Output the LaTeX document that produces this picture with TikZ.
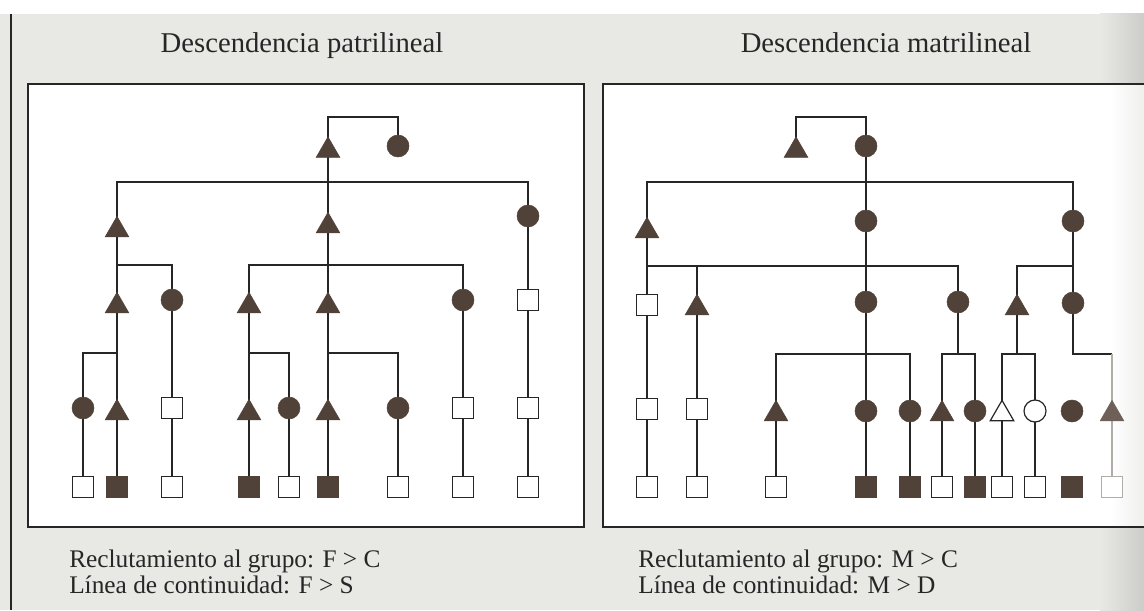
\documentclass[tikz,border=0pt]{standalone}
\usepackage{fontspec}
\setmainfont{Liberation Serif}
\usetikzlibrary{shapes.geometric,backgrounds}

\definecolor{paper}{RGB}{232,232,229}
\definecolor{ink}{RGB}{38,38,38}
\definecolor{kin}{RGB}{80,66,56}
\definecolor{faded}{RGB}{176,172,168}
\definecolor{fadedkin}{RGB}{110,96,88}

\begin{document}
\begin{tikzpicture}[x=0.75pt,y=0.75pt,yscale=-1,xscale=1,
  link/.style={draw=ink,line width=1pt},
  boxline/.style={draw=ink,line width=1.3pt},
  male/.style={regular polygon,regular polygon sides=3,minimum size=20.5pt,inner sep=0pt,fill=kin,draw=kin,line width=0.4pt},
  female/.style={circle,minimum size=16.5pt,inner sep=0pt,fill=kin,draw=kin,line width=0.4pt},
  sqopen/.style={rectangle,minimum size=15.5pt,inner sep=0pt,fill=white,draw=ink,line width=0.9pt},
  sqfull/.style={sqopen,fill=kin,draw=kin},
  maleopen/.style={male,fill=white,draw=ink,line width=0.9pt},
  femaleopen/.style={female,fill=white,draw=ink,line width=0.9pt},
  heading/.style={font=\fontsize{21.5}{24}\selectfont,text=ink,inner sep=0pt,anchor=base},
  captionline/.style={font=\fontsize{19}{21}\selectfont,text=ink,inner sep=0pt,anchor=base west}]
\useasboundingbox (0,0) rectangle (1144,610);

% Text Node
\node[heading] (tpat) at (302,53) {Descendencia patrilineal};
% Text Node
\node[heading] (tmat) at (886,53) {Descendencia matrilineal};

%%%%% patrilineal
\node[male]   (p0a) at (328,150.5) {};
\node[female] (p0b) at (398,146) {};
\node[male]   (p1a) at (117,230) {};
\node[male]   (p1b) at (328,226) {};
\node[female] (p1c) at (528,216) {};
\node[male]   (p2a) at (117,306) {};
\node[female] (p2b) at (172,300) {};
\node[male]   (p2c) at (249,306) {};
\node[male]   (p2d) at (328,306) {};
\node[female] (p2e) at (463,300) {};
\node[sqopen] (p2f) at (528,300) {};
\node[female] (p3a) at (83,408) {};
\node[male]   (p3b) at (117,413) {};
\node[sqopen] (p3c) at (172,408) {};
\node[male]   (p3d) at (249,413) {};
\node[female] (p3e) at (289,408) {};
\node[male]   (p3f) at (328,413) {};
\node[female] (p3g) at (398,408) {};
\node[sqopen] (p3h) at (463,408) {};
\node[sqopen] (p3i) at (528,408) {};
\node[sqopen] (p4a) at (83,487) {};
\node[sqfull] (p4b) at (117,487) {};
\node[sqopen] (p4c) at (172,487) {};
\node[sqfull] (p4d) at (249,487) {};
\node[sqopen] (p4e) at (289,487) {};
\node[sqfull] (p4f) at (328,487) {};
\node[sqopen] (p4g) at (398,487) {};
\node[sqopen] (p4h) at (463,487) {};
\node[sqopen] (p4i) at (528,487) {};

%%%%% matrilineal
\node[male]   (m0a) at (796,150.5) {};
\node[female] (m0b) at (866,146) {};
\node[male]   (m1a) at (647,231) {};
\node[female] (m1b) at (866,221) {};
\node[female] (m1c) at (1073,221) {};
\node[sqopen] (m2a) at (647,305) {};
\node[male]   (m2b) at (697,308) {};
\node[female] (m2c) at (866,302) {};
\node[female] (m2d) at (958,302) {};
\node[male]   (m2e) at (1017,308) {};
\node[female] (m2f) at (1073,303) {};
\node[sqopen] (m3a) at (647,409) {};
\node[sqopen] (m3b) at (697,409) {};
\node[male]   (m3c) at (776,414) {};
\node[female] (m3d) at (866,411) {};
\node[female] (m3e) at (910,411) {};
\node[male]   (m3f) at (942,414) {};
\node[female] (m3g) at (975,411) {};
\node[maleopen]   (m3h) at (1002,414) {};
\node[femaleopen] (m3i) at (1035,411) {};
\node[female] (m3j) at (1072,411) {};
\node[male,fill=fadedkin,draw=fadedkin] (m3k) at (1112,414) {};
\node[sqopen] (m4a) at (647,487) {};
\node[sqopen] (m4b) at (697,487) {};
\node[sqopen] (m4c) at (776,487) {};
\node[sqfull] (m4d) at (866,487) {};
\node[sqfull] (m4e) at (910,487) {};
\node[sqopen] (m4f) at (942,487) {};
\node[sqfull] (m4g) at (975,487) {};
\node[sqopen] (m4h) at (1002,487) {};
\node[sqopen] (m4i) at (1035,487) {};
\node[sqfull] (m4j) at (1072,487) {};
\node[sqopen,draw=faded] (m4k) at (1112,487) {};

% Text Node
\node[captionline] (rp1) at (69,567) {Reclutamiento al grupo: F > C};
\node[captionline] (rp2) at (69,593) {Línea de continuidad: F > S};
% Text Node
\node[captionline] (rm1) at (638,567) {Reclutamiento al grupo: M > C};
\node[captionline] (rm2) at (638,593) {Línea de continuidad: M > D};

\coordinate (pw0) at (363,117);
\coordinate (pb1) at (328,182);
\coordinate (pb2a) at (117,265);
\coordinate (pb2b) at (328,265);
\coordinate (pb3a) at (117,353);
\coordinate (pb3b) at (249,353);
\coordinate (pb3c) at (328,353);
\coordinate (mw0) at (831,117);
\coordinate (mb1) at (866,182);
\coordinate (mb2a) at (866,266);
\coordinate (mb2b) at (1073,266);
\coordinate (mb3a) at (866,354);
\coordinate (mb3b) at (958,354);
\coordinate (mb3c) at (1017,354);
\coordinate (mb3d) at (1112,354);

\begin{scope}[on background layer]
% paper
\fill[white] (0,0) rectangle (1144,14);
\fill[paper] (0,14) rectangle (1144,610);
\shade[left color=paper,right color=paper!88!black] (1100,14) rectangle (1144,610);
\draw[ink,line width=1pt] (11,14) -- (11,610);
% frames
\filldraw[boxline,fill=white] (28,84) rectangle (584,527);
\fill[white] (603,84) rectangle (1144,527);
\shade[left color=white,right color=paper!70!white] (1110,84) rectangle (1144,527);
\draw[boxline] (1144,84) -- (603,84) -- (603,527) -- (1144,527);

%Straight Lines patrilineal
\draw[link] (p0a.center) |- (pw0) -| (p0b.center);
\draw[link] (p0a.center) -- (p1b.center);
\draw[link] (p1a.center) |- (pb1) -| (p1c.center);
\draw[link] (p1a.center) -- (p2a.center);
\draw[link] (p2a.center) |- (pb2a) -| (p2b.center);
\draw[link] (p1b.center) -- (p2d.center);
\draw[link] (p2c.center) |- (pb2b) -| (p2e.center);
\draw[link] (p1c.center) -- (p2f.center);
\draw[link] (p2a.center) -- (p3b.center);
\draw[link] (p3a.center) |- (pb3a);
\draw[link] (p2b.center) -- (p3c.center);
\draw[link] (p2c.center) -- (p3d.center);
\draw[link] (pb3b) -| (p3e.center);
\draw[link] (p2d.center) -- (p3f.center);
\draw[link] (pb3c) -| (p3g.center);
\draw[link] (p2e.center) -- (p3h.center);
\draw[link] (p2f.center) -- (p3i.center);
\foreach \a/\b in {p3a/p4a,p3b/p4b,p3c/p4c,p3d/p4d,p3e/p4e,p3f/p4f,p3g/p4g,p3h/p4h,p3i/p4i}
  \draw[link] (\a.center) -- (\b.center);

%Straight Lines matrilineal
\draw[link] (m0a.center) |- (mw0) -| (m0b.center);
\draw[link] (m0b.center) -- (m1b.center);
\draw[link] (m1a.center) |- (mb1) -| (m1c.center);
\draw[link] (m1a.center) -- (m2a.center);
\draw[link] (m1b.center) -- (m2c.center);
\draw[link] (m2a.center) |- (mb2a) -| (m2d.center);
\draw[link] (m2b.center) -- (m2b |- mb2a);
\draw[link] (m1c.center) -- (m2f.center);
\draw[link] (m2e.center) |- (mb2b);
\draw[link] (m2a.center) -- (m3a.center);
\draw[link] (m2b.center) -- (m3b.center);
\draw[link] (m2c.center) -- (m3d.center);
\draw[link] (m3c.center) |- (mb3a) -| (m3e.center);
\draw[link] (m2d.center) -- (mb3b);
\draw[link] (m3f.center) |- (mb3b) -| (m3g.center);
\draw[link] (m2e.center) -- (mb3c);
\draw[link] (m3h.center) |- (mb3c) -| (m3i.center);
\draw[link] (m2f.center) |- (mb3d);
\draw[link,draw=faded] (mb3d) -- (m3k.center) -- (m4k.center);
\foreach \a/\b in {m3a/m4a,m3b/m4b,m3c/m4c,m3d/m4d,m3e/m4e,m3f/m4f,m3g/m4g,m3h/m4h,m3i/m4i}
  \draw[link] (\a.center) -- (\b.center);
\end{scope}
\end{tikzpicture}
\end{document}
